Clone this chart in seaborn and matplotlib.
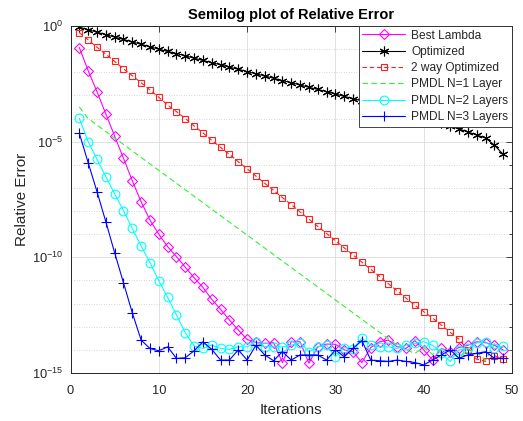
import numpy as np
import pandas as pd
import matplotlib
matplotlib.use("Agg")
import matplotlib.pyplot as plt
import seaborn as sns
from matplotlib.ticker import FixedLocator, FixedFormatter, NullFormatter

# Iteration index shared by every run
iterations = list(range(1, 50))

# Relative error per iteration, stored as log10 exponents
best_lambda_exp = [
    -0.93, -1.93, -2.84, -3.80, -4.76, -5.72, -6.69, -7.60, -8.39, -9.00,
    -9.54, -9.97, -10.43, -10.88, -11.30, -11.82, -12.25, -12.71, -13.14, -13.55,
    -13.68, -13.72, -13.69, -14.55, -13.65, -13.65, -14.58, -13.87, -13.75, -13.76,
    -14.00, -14.08, -14.55, -13.90, -13.65, -13.58, -13.87, -13.94, -13.60, -14.00,
    -14.44, -13.94, -14.08, -13.90, -13.80, -13.65, -13.69, -13.80, -14.00,
]
optimized_exp = [
    -0.05, -0.16, -0.27, -0.37, -0.48, -0.58, -0.69, -0.79, -0.90, -1.00,
    -1.10, -1.19, -1.29, -1.39, -1.49, -1.58, -1.68, -1.78, -1.87, -1.97,
    -2.07, -2.16, -2.26, -2.36, -2.45, -2.55, -2.65, -2.74, -2.84, -2.94,
    -3.04, -3.14, -3.24, -3.34, -3.44, -3.54, -3.64, -3.75, -3.86, -3.97,
    -4.08, -4.20, -4.32, -4.45, -4.58, -4.71, -4.84, -5.15, -5.55,
]
two_way_exp = [
    -0.29, -0.60, -0.92, -1.22, -1.53, -1.85, -2.15, -2.45, -2.77, -3.08,
    -3.42, -3.70, -4.00, -4.32, -4.62, -4.94, -5.25, -5.55, -5.87, -6.17,
    -6.49, -6.80, -7.10, -7.42, -7.72, -8.04, -8.35, -8.66, -8.97, -9.28,
    -9.59, -9.90, -10.21, -10.52, -10.83, -11.14, -11.45, -11.76, -12.07, -12.35,
    -12.62, -12.93, -13.24, -13.54, -14.00, -14.40, -14.50, -14.25, -14.40,
]
pmdl1_exp = [
    -3.50, -4.00, -4.28, -4.56, -4.84, -5.12, -5.40, -5.68, -5.96, -6.24,
    -6.52, -6.80, -7.08, -7.36, -7.64, -7.92, -8.20, -8.48, -8.76, -9.04,
    -9.32, -9.60, -9.88, -10.16, -10.44, -10.72, -11.00, -11.28, -11.56, -11.84,
    -12.12, -12.40, -12.68, -12.96, -13.24, -13.52, -13.80, -14.00, -14.15, -13.90,
    -14.20, -14.00, -14.10, -14.35, -14.00, -14.10, -14.45, -13.75, -13.90,
]
pmdl2_exp = [
    -3.99, -5.00, -5.76, -6.51, -7.26, -7.98, -8.75, -9.51, -10.23, -11.01,
    -11.73, -12.49, -13.26, -13.83, -13.94, -13.79, -13.94, -13.98, -13.87, -13.87,
    -13.65, -13.87, -13.87, -13.87, -13.80, -13.70, -14.08, -13.87, -13.80, -14.30,
    -13.90, -13.95, -13.50, -13.80, -13.87, -13.87, -13.94, -13.80, -13.72, -13.65,
    -13.80, -14.15, -14.50, -14.00, -13.94, -13.70, -13.65, -13.94, -13.84,
]
pmdl3_exp = [
    -4.64, -5.91, -7.16, -8.46, -9.80, -11.10, -12.40, -13.58, -13.94, -14.04,
    -13.87, -14.37, -14.34, -14.04, -13.65, -13.98, -14.44, -14.44, -14.00, -14.44,
    -13.80, -14.22, -14.47, -14.08, -14.44, -14.22, -14.22, -14.22, -14.44, -14.00,
    -14.30, -13.94, -13.60, -14.44, -14.47, -14.50, -14.44, -14.50, -14.55, -14.65,
    -14.44, -14.22, -14.00, -14.36, -14.22, -14.15, -14.08, -14.36, -14.36,
]

series_names = ["Best Lambda", "Optimized", "2 way Optimized",
                "PMDL N=1 Layer", "PMDL N=2 Layers", "PMDL N=3 Layers"]
series_exps = [best_lambda_exp, optimized_exp, two_way_exp,
               pmdl1_exp, pmdl2_exp, pmdl3_exp]

x_ticks = [0, 10, 20, 30, 40, 50]
y_ticks = [1e0, 1e-5, 1e-10, 1e-15]
y_tick_labels = [r"$\mathregular{10^{0}}$", r"$\mathregular{10^{-5}}$",
                 r"$\mathregular{10^{-10}}$", r"$\mathregular{10^{-15}}$"]

frames = []
for name, exps in zip(series_names, series_exps):
    frames.append(pd.DataFrame({"Iterations": iterations,
                                "Relative Error": 10.0 ** np.array(exps),
                                "Method": name}))
df = pd.concat(frames, ignore_index=True)

sns.set_theme(style="white")
plt.rcParams["font.family"] = ["Liberation Sans", "DejaVu Sans"]
plt.rcParams["mathtext.fontset"] = "custom"
plt.rcParams["mathtext.rm"] = "Liberation Sans"
plt.rcParams["mathtext.it"] = "Liberation Sans:italic"
plt.rcParams["mathtext.bf"] = "Liberation Sans:bold"

ink = "#262626"

# six-spoke asterisk marker
asterisk = (6, 2, 0)

styles = {
    "Best Lambda":     dict(color="#FF00FF", marker="D", ms=5.0, ls="-"),
    "Optimized":       dict(color="#000000", marker=asterisk, ms=7.0, ls="-"),
    "2 way Optimized": dict(color="#FF2020", marker="s", ms=4.5, ls=(0, (4, 2.5))),
    "PMDL N=1 Layer":  dict(color="#33EE33", marker=None, ms=0, ls=(0, (5, 3))),
    "PMDL N=2 Layers": dict(color="#00FFFF", marker="o", ms=6.3, ls="-"),
    "PMDL N=3 Layers": dict(color="#0000FF", marker="+", ms=6.8, ls="-"),
}

fig = plt.figure(figsize=(5.23, 4.21), dpi=100)
ax = fig.add_axes([70.5 / 523, 1 - 373 / 421, (512 - 70.5) / 523, (373 - 26) / 421])
ax.set_yscale("log")

for name in series_names:
    st = styles[name]
    sub = df[df["Method"] == name]
    kws = dict(color=st["color"], linewidth=0.8, linestyle=st["ls"], label=name)
    if st["marker"] is not None:
        kws.update(marker=st["marker"], markersize=st["ms"],
                   markerfacecolor="none", markeredgecolor=st["color"],
                   markeredgewidth=0.8)
    sns.lineplot(data=sub, x="Iterations", y="Relative Error", ax=ax,
                 estimator=None, sort=False, **kws)

ax.set_xlim(0, 50)
ax.set_ylim(1e-15, 1e0)
ax.xaxis.set_major_locator(FixedLocator(x_ticks))
ax.yaxis.set_major_locator(FixedLocator(y_ticks))
ax.yaxis.set_major_formatter(FixedFormatter(y_tick_labels))
ax.yaxis.set_minor_locator(FixedLocator([10.0 ** -k for k in range(0, 16)]))
ax.yaxis.set_minor_formatter(NullFormatter())

ax.grid(True, which="major", color="#DCDCDC", linewidth=0.6, linestyle="-")
ax.grid(True, which="minor", axis="y", color="#C8C8C8", linewidth=0.6,
        linestyle=(0, (1, 2)))
ax.set_axisbelow(True)

for sp in ax.spines.values():
    sp.set_visible(True)
    sp.set_color(ink)
    sp.set_linewidth(0.7)

ax.tick_params(which="both", direction="in", top=True, right=True,
               colors=ink, labelcolor=ink, width=0.6, labelsize=9.3)
ax.tick_params(which="major", length=4)
ax.tick_params(which="minor", length=2.5)
ax.tick_params(axis="x", which="major", pad=9)
ax.tick_params(axis="y", which="major", pad=5)

ax.set_xlabel("Iterations", fontsize=11, color=ink, labelpad=4)
ax.set_ylabel("Relative Error", fontsize=11, color=ink, labelpad=2)
ax.set_title("Semilog plot of Relative Error", fontsize=10.5,
             fontweight="bold", color="#000000", pad=5)

leg = ax.legend(loc="upper right", frameon=True, fancybox=False,
                edgecolor=ink, framealpha=1, borderaxespad=0,
                fontsize=8.6, handlelength=3.6, handletextpad=0.5,
                labelspacing=0.36, borderpad=0.3)
leg.get_frame().set_linewidth(0.6)
for t in leg.get_texts():
    t.set_color(ink)

fig.savefig("out.png", dpi=100)
